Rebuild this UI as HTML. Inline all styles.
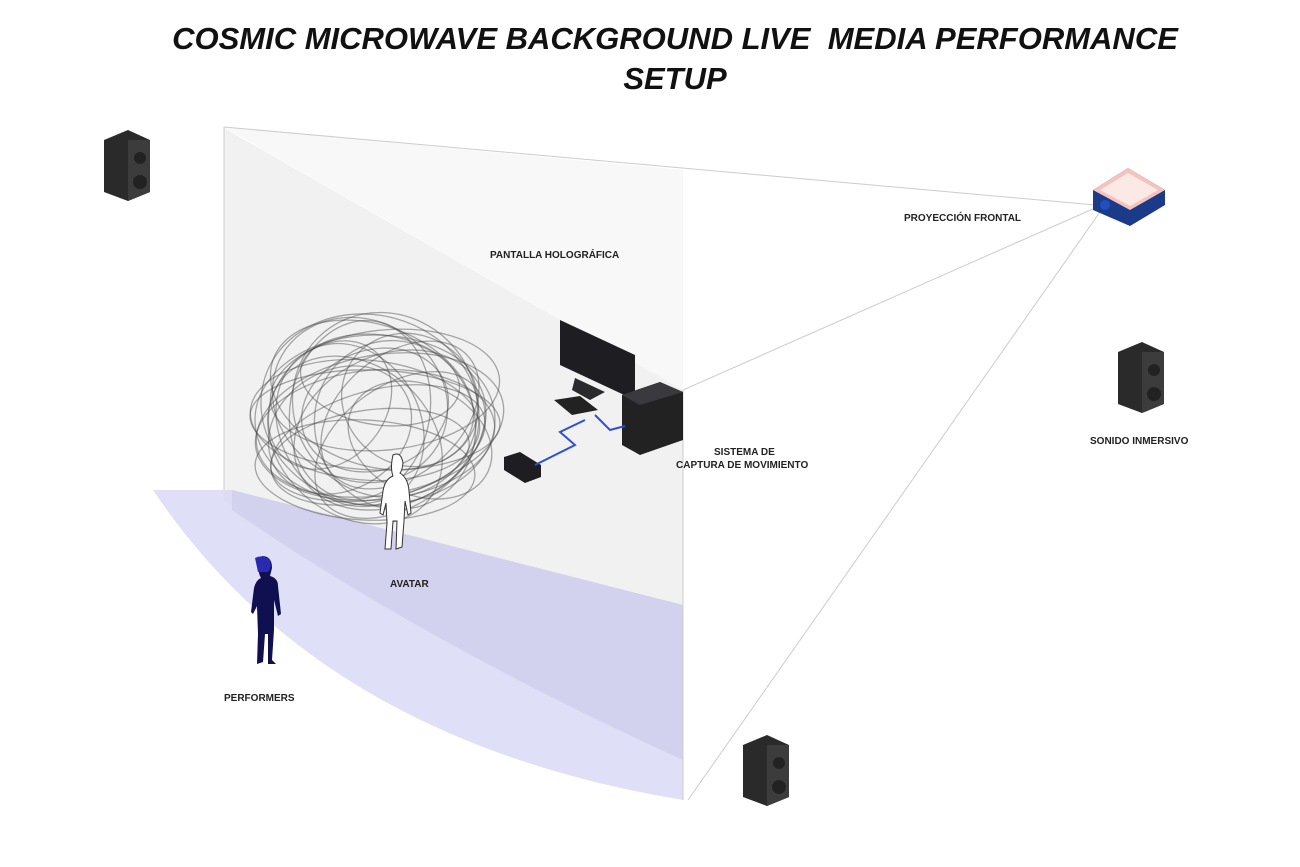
<!DOCTYPE html>
<html><head><meta charset="utf-8"><style>
body{margin:0;background:#fff;width:1300px;height:867px;overflow:hidden;font-family:"Liberation Sans",sans-serif}
.t{position:absolute;left:0;width:1350px;text-align:center;font-style:italic;font-weight:bold;font-size:31px;color:#111}
.l{position:absolute;font-size:10px;font-weight:bold;color:#222;white-space:nowrap}
</style></head><body>
<div class="t" style="top:21px">COSMIC MICROWAVE BACKGROUND LIVE&nbsp; MEDIA PERFORMANCE</div>
<div class="t" style="top:61px">SETUP</div>
<svg width="1300" height="867" style="position:absolute;left:0;top:0">
<path d="M224,127 L683,170 L683,390 Z" fill="#f8f8f8"/>
<path d="M224,128 L683,390 L683,760 Q420,640 224,500 Z" fill="#f1f1f1"/>
<path d="M153,490 L232,490 L683,605 L683,800 Q320,740 153,490 Z" fill="#d4d4f6" opacity="0.75"/>
<path d="M232,490 L683,605 L683,760 Q420,640 232,510 Z" fill="#c8c8e8" opacity="0.5"/>
<g stroke="#ccc" stroke-width="1" fill="none">
<line x1="224" y1="127" x2="1095" y2="205"/>
<line x1="683" y1="390" x2="1095" y2="208"/>
<line x1="688" y1="800" x2="1100" y2="212"/>
<line x1="224" y1="127" x2="224" y2="490"/>
<line x1="683" y1="390" x2="683" y2="800"/>
</g>
<g fill="none" stroke="#444" stroke-opacity="0.45" stroke-width="1.3">
<ellipse cx="375" cy="420" rx="120" ry="85"/>
<ellipse cx="370" cy="410" rx="110" ry="95" transform="rotate(15 370 410)"/>
<ellipse cx="380" cy="425" rx="125" ry="70" transform="rotate(-10 380 425)"/>
<ellipse cx="360" cy="400" rx="90" ry="80" transform="rotate(30 360 400)"/>
<ellipse cx="390" cy="430" rx="100" ry="75" transform="rotate(-25 390 430)"/>
<ellipse cx="365" cy="420" rx="115" ry="60" transform="rotate(5 365 420)"/>
<ellipse cx="385" cy="405" rx="95" ry="90" transform="rotate(45 385 405)"/>
<ellipse cx="375" cy="435" rx="120" ry="65" transform="rotate(-5 375 435)"/>
<ellipse cx="350" cy="425" rx="85" ry="70" transform="rotate(60 350 425)"/>
<ellipse cx="400" cy="415" rx="90" ry="60" transform="rotate(-40 400 415)"/>
<ellipse cx="372" cy="395" rx="105" ry="70" transform="rotate(20 372 395)"/>
<ellipse cx="378" cy="445" rx="110" ry="55" transform="rotate(-15 378 445)"/>
<ellipse cx="360" cy="410" rx="70" ry="90" transform="rotate(10 360 410)"/>
<ellipse cx="395" cy="425" rx="80" ry="85" transform="rotate(-20 395 425)"/>
<ellipse cx="375" cy="420" rx="125" ry="50" transform="rotate(2 375 420)"/>
<ellipse cx="340" cy="430" rx="75" ry="60" transform="rotate(-30 340 430)"/>
<ellipse cx="410" cy="400" rx="70" ry="65" transform="rotate(35 410 400)"/>
<ellipse cx="370" cy="455" rx="100" ry="45" transform="rotate(-8 370 455)"/>
<ellipse cx="380" cy="380" rx="80" ry="45" transform="rotate(8 380 380)"/>
<ellipse cx="420" cy="440" rx="75" ry="55" transform="rotate(25 420 440)"/>
<ellipse cx="330" cy="405" rx="70" ry="55" transform="rotate(-50 330 405)"/>
<ellipse cx="365" cy="470" rx="110" ry="50" transform="rotate(3 365 470)"/>
<ellipse cx="385" cy="390" rx="115" ry="60" transform="rotate(-6 385 390)"/>
<ellipse cx="355" cy="440" rx="95" ry="75" transform="rotate(40 355 440)"/>
<ellipse cx="400" cy="445" rx="95" ry="60" transform="rotate(-35 400 445)"/>
<ellipse cx="375" cy="410" rx="60" ry="75" transform="rotate(70 375 410)"/>
</g>
<path d="M393,455 q8,-4 10,8 q-1,8 -3,10 q8,5 9,18 l2,22 l-3,2 l-3,-14 l-1,20 l-2,26 l-6,2 l1,-28 l-4,0 l-2,28 l-6,0 l2,-26 l-1,-20 l-3,12 l-3,-2 l3,-22 q2,-12 10,-15 q-3,-8 0,-21 z" fill="#fff" stroke="#333" stroke-width="1"/>
<path d="M262,556 q10,0 10,12 l-2,8 q8,2 8,10 l3,28 l-3,2 l-4,-16 l0,30 l-2,30 l4,4 l-8,0 l0,-30 l-3,0 l-2,28 l-6,2 l1,-30 l-1,-28 l-4,8 l-2,-2 l3,-24 q2,-8 7,-10 q-5,-8 1,-20 z" fill="#101050"/>
<path d="M255,558 q8,-4 15,2 q2,8 -2,12 l-10,0 z" fill="#2a2ab0"/>
<polygon points="560,320 635,355 635,400 560,365" fill="#1d1d22"/>
<polygon points="575,378 605,392 590,400 572,390" fill="#2a2a2e"/>
<polygon points="554,400 580,396 598,410 572,415" fill="#222"/>
<polygon points="622,395 660,382 683,392 683,440 640,455 622,445" fill="#222"/>
<polygon points="622,395 660,382 683,392 640,405" fill="#3a3a3e"/>
<polygon points="504,457 520,452 541,465 541,477 525,483 504,470" fill="#1e1e22"/>
<polyline points="535,465 575,445 560,432 585,420" fill="none" stroke="#3050d0" stroke-width="2"/>
<polyline points="595,415 610,430 625,426" fill="none" stroke="#3050d0" stroke-width="2"/>
<polygon points="1093,190 1128,168 1165,190 1165,205 1130,226 1093,210" fill="#1c3a8a"/>
<polygon points="1093,190 1128,168 1165,190 1130,210" fill="#f4c4bc"/>
<polygon points="1100,190 1128,173 1158,190 1130,206" fill="#fbe9e6"/>
<circle cx="1105" cy="205" r="5" fill="#2050c0"/>
<g id="sp"><polygon points="104,140 128,130 150,140 150,192 128,201 104,192" fill="#2a2a2a"/><polygon points="128,140 150,140 150,192 128,201" fill="#3c3c3c"/><circle cx="140" cy="158" r="6" fill="#222"/><circle cx="140" cy="182" r="7" fill="#222"/></g>
<use href="#sp" transform="translate(1014,212)"/>
<use href="#sp" transform="translate(639,605)"/>
</svg>
<div class="l" style="left:490px;top:250px">PANTALLA HOLOGRÁFICA</div>
<div class="l" style="left:904px;top:213px">PROYECCIÓN FRONTAL</div>
<div class="l" style="left:714px;top:447px">SISTEMA DE</div>
<div class="l" style="left:676px;top:460px">CAPTURA DE MOVIMIENTO</div>
<div class="l" style="left:1090px;top:436px">SONIDO INMERSIVO</div>
<div class="l" style="left:390px;top:579px">AVATAR</div>
<div class="l" style="left:224px;top:693px">PERFORMERS</div>
</body></html>
